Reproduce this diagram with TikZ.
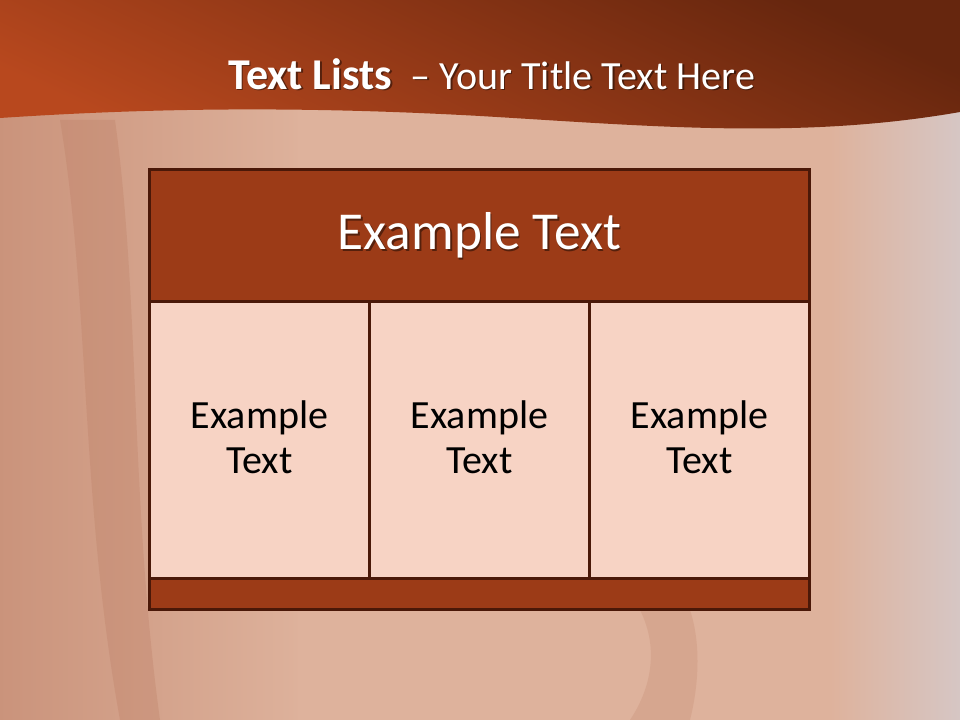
\documentclass[tikz,border=0pt]{standalone}
\usepackage{fontspec}
\setmainfont{Carlito}
\usetikzlibrary{positioning}
\definecolor{bannerlit}{HTML}{B8481E}
\definecolor{bannerdark}{HTML}{66260E}
\definecolor{rustfill}{HTML}{9C3B17}
\definecolor{rustedge}{HTML}{4A1808}
\definecolor{peach}{HTML}{F7D3C4}
\definecolor{barkbg}{HTML}{DEB29C}
\definecolor{barkdark}{HTML}{B8765C}
\definecolor{barkgrey}{HTML}{D6C6C4}
\newcommand{\slidetitle}{{\fontsize{33}{38}\selectfont\bfseries Text Lists}\hspace{14pt}– Your Title Text Here}

\begin{document}
\begin{tikzpicture}[
 x=0.75pt,y=-0.75pt,
 tablebox/.style={draw=rustedge,line width=2.2pt,anchor=north west,inner sep=0pt},
 headbox/.style={tablebox,fill=rustfill,minimum width=495pt,minimum height=99pt},
 footbox/.style={tablebox,fill=rustfill,minimum width=495pt,minimum height=23.25pt},
 cellbox/.style={tablebox,fill=peach,minimum width=165pt,minimum height=207.75pt},
 celltext/.style={font=\fontsize{30}{34}\selectfont,align=center},
 headtext/.style={font=\fontsize{40}{48}\selectfont,text=white},
 titletext/.style={font=\fontsize{30}{36}\selectfont,text=white},
 dropshade/.style={text=black,opacity=0.45}]
\useasboundingbox (0,0) rectangle (960,720);
% background
\fill[barkbg] (0,0) rectangle (960,720);
\shade[left color=barkdark,right color=barkbg,opacity=0.5] (0,0) rectangle (300,720);
\shade[left color=barkbg,right color=barkgrey] (830,0) rectangle (960,720);
\fill[barkdark,opacity=0.25] (60,120) .. controls (90,300) and (80,500) .. (120,720)
 -- (160,720) .. controls (130,500) and (140,300) .. (115,120) -- cycle;
\fill[barkdark,opacity=0.2] (640,610) .. controls (660,650) and (650,690) .. (630,720)
 -- (690,720) .. controls (700,680) and (700,640) .. (690,610) -- cycle;
% banner
\shade[top color=bannerdark,bottom color=bannerlit,shading angle=-25]
 (0,0) -- (960,0) -- (960,112)
 .. controls (800,140) and (650,126) .. (480,116)
 .. controls (300,106) and (150,108) .. (0,118) -- cycle;
\node[titletext,dropshade] (titleshade) at (493,75.5) {\slidetitle};
\node[titletext] (title) at (491.5,74) {\slidetitle};
% table
\node[headbox] (head) at (148,168) {};
\node[cellbox] (cellA) at (148,300) {};
\node[cellbox] (cellB) at (368,300) {};
\node[cellbox] (cellC) at (588,300) {};
\node[footbox] (foot) at (148,577) {};
\node[headtext,dropshade] (headshade) at ([xshift=1.2pt,yshift=-1.2pt]head.center) {Example Text};
\node[headtext] (headlabel) at (head.center) {Example Text};
\node[celltext] (textA) at ([yshift=2pt]cellA.center) {Example\\Text};
\node[celltext] (textB) at ([yshift=2pt]cellB.center) {Example\\Text};
\node[celltext] (textC) at ([yshift=2pt]cellC.center) {Example\\Text};
\end{tikzpicture}
\end{document}
